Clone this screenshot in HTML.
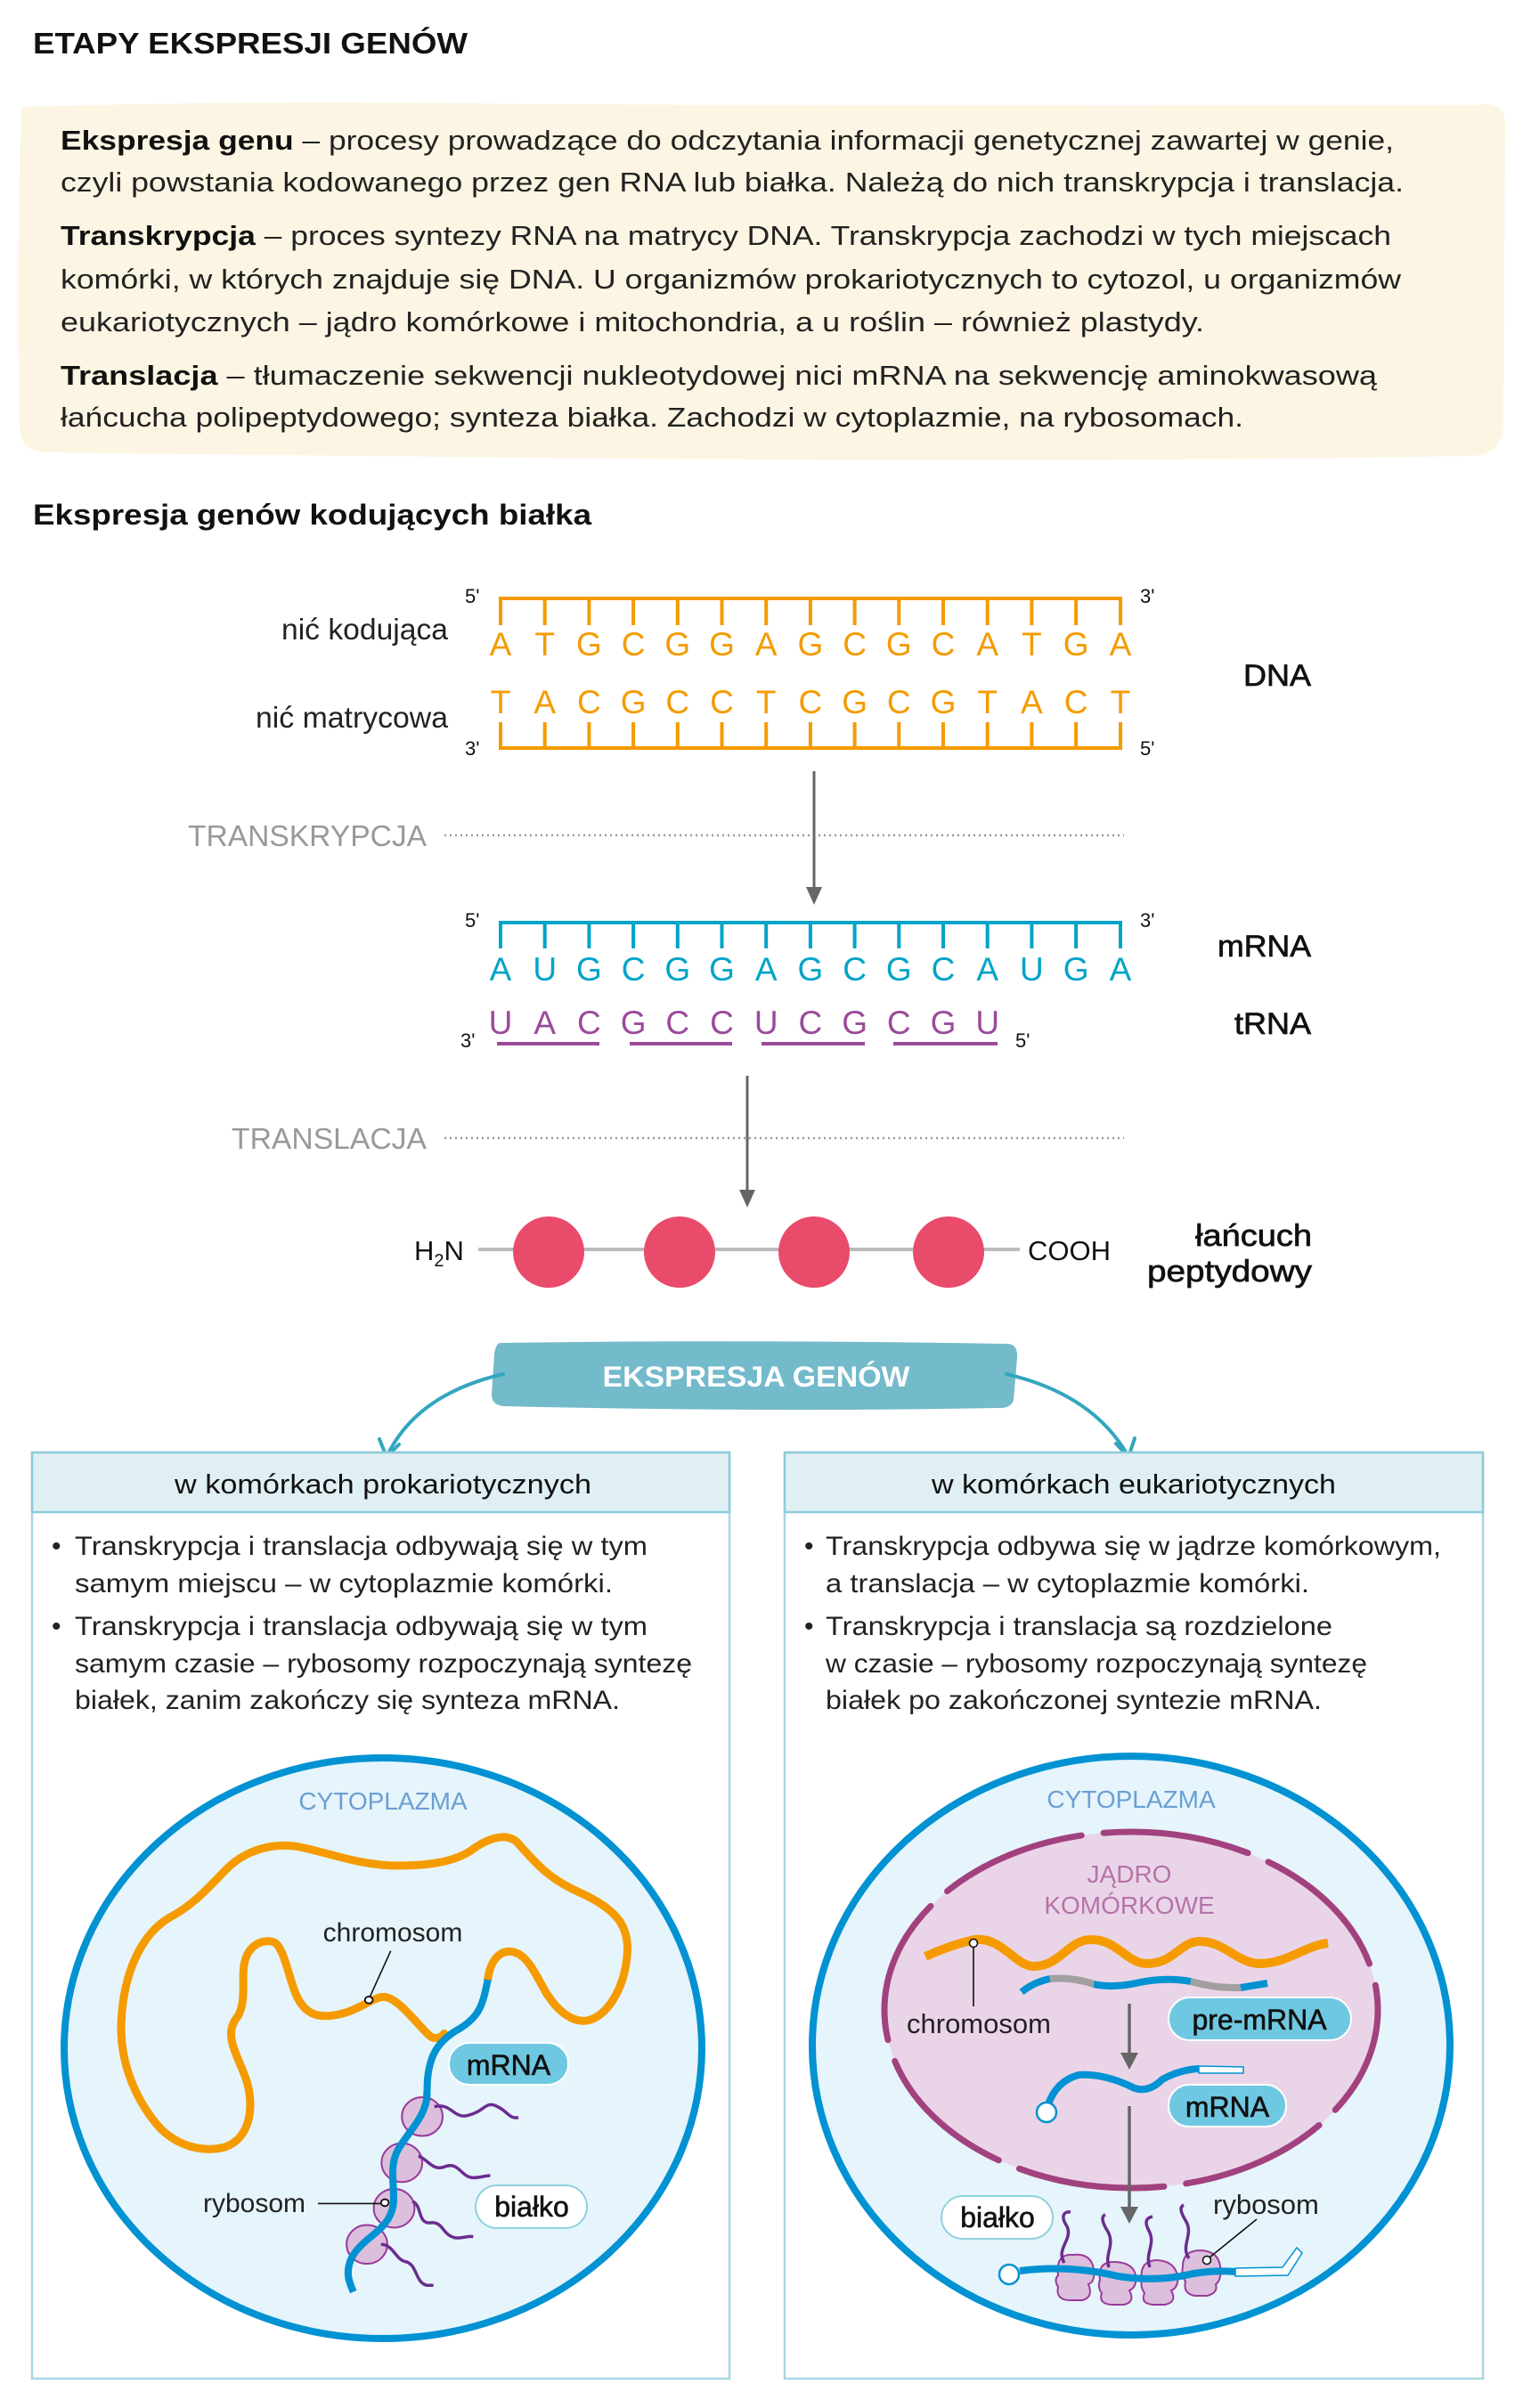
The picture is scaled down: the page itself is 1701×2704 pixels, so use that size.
<!DOCTYPE html>
<html><head><meta charset="utf-8"><style>
html,body{margin:0;padding:0;background:#fff}
svg{display:block}
text{font-family:"Liberation Sans",sans-serif}
</style></head><body>
<svg width="1701" height="2704" viewBox="0 0 1701 2704" xmlns="http://www.w3.org/2000/svg">
<!-- Title -->
<text x="37" y="60" font-size="33" font-weight="bold" fill="#111" textLength="488" lengthAdjust="spacingAndGlyphs">ETAPY EKSPRESJI GENÓW</text>
<!-- Beige box -->
<path d="M24 120 Q300 112 600 117 Q1000 119 1660 118 Q1690 112 1690 140 L1688 470 Q1690 512 1650 512 Q1200 520 600 514 Q200 510 50 508 Q22 505 22 480 Q18 300 24 120 Z" fill="#fdf5e3"/>
<g font-size="31" fill="#222">
<text x="68" y="168" textLength="1497" lengthAdjust="spacingAndGlyphs"><tspan font-weight="bold" fill="#111">Ekspresja genu</tspan> – procesy prowadzące do odczytania informacji genetycznej zawartej w genie,</text>
<text x="68" y="215" textLength="1508" lengthAdjust="spacingAndGlyphs">czyli powstania kodowanego przez gen RNA lub białka. Należą do nich transkrypcja i translacja.</text>
<text x="68" y="275" textLength="1494" lengthAdjust="spacingAndGlyphs"><tspan font-weight="bold" fill="#111">Transkrypcja</tspan> – proces syntezy RNA na matrycy DNA. Transkrypcja zachodzi w tych miejscach</text>
<text x="68" y="324" textLength="1505" lengthAdjust="spacingAndGlyphs">komórki, w których znajduje się DNA. U organizmów prokariotycznych to cytozol, u organizmów</text>
<text x="68" y="372" textLength="1284" lengthAdjust="spacingAndGlyphs">eukariotycznych – jądro komórkowe i mitochondria, a u roślin – również plastydy.</text>
<text x="68" y="432" textLength="1478" lengthAdjust="spacingAndGlyphs"><tspan font-weight="bold" fill="#111">Translacja</tspan> – tłumaczenie sekwencji nukleotydowej nici mRNA na sekwencję aminokwasową</text>
<text x="68" y="479" textLength="1328" lengthAdjust="spacingAndGlyphs">łańcucha polipeptydowego; synteza białka. Zachodzi w cytoplazmie, na rybosomach.</text>
</g>
<text x="37" y="589" font-size="32" font-weight="bold" fill="#111" textLength="627" lengthAdjust="spacingAndGlyphs">Ekspresja genów kodujących białka</text>

<!-- DNA -->
<g stroke="#f59b00" stroke-width="4" fill="none">
<path d="M562 702 V672 H1258 V702"/>
<path d="M611.7 672V702M661.4 672V702M711.1 672V702M760.8 672V702M810.5 672V702M860.2 672V702M909.9 672V702M959.6 672V702M1009.3 672V702M1059 672V702M1108.7 672V702M1158.4 672V702M1208.1 672V702"/>
<path d="M562 811 V840 H1258 V811"/>
<path d="M611.7 811V840M661.4 811V840M711.1 811V840M760.8 811V840M810.5 811V840M860.2 811V840M909.9 811V840M959.6 811V840M1009.3 811V840M1059 811V840M1108.7 811V840M1158.4 811V840M1208.1 811V840"/>
</g>
<g font-size="37" fill="#f59b00" text-anchor="middle">
<text y="736"><tspan x="562">A</tspan><tspan x="611.7">T</tspan><tspan x="661.4">G</tspan><tspan x="711.1">C</tspan><tspan x="760.8">G</tspan><tspan x="810.5">G</tspan><tspan x="860.2">A</tspan><tspan x="909.9">G</tspan><tspan x="959.6">C</tspan><tspan x="1009.3">G</tspan><tspan x="1059">C</tspan><tspan x="1108.7">A</tspan><tspan x="1158.4">T</tspan><tspan x="1208.1">G</tspan><tspan x="1258">A</tspan></text>
<text y="801"><tspan x="562">T</tspan><tspan x="611.7">A</tspan><tspan x="661.4">C</tspan><tspan x="711.1">G</tspan><tspan x="760.8">C</tspan><tspan x="810.5">C</tspan><tspan x="860.2">T</tspan><tspan x="909.9">C</tspan><tspan x="959.6">G</tspan><tspan x="1009.3">C</tspan><tspan x="1059">G</tspan><tspan x="1108.7">T</tspan><tspan x="1158.4">A</tspan><tspan x="1208.1">C</tspan><tspan x="1258">T</tspan></text>
</g>
<g font-size="22" fill="#111">
<text x="522" y="677">5'</text><text x="1280" y="677">3'</text>
<text x="522" y="848">3'</text><text x="1280" y="848">5'</text>
<text x="522" y="1041">5'</text><text x="1280" y="1041">3'</text>
<text x="517" y="1176">3'</text><text x="1140" y="1176">5'</text>
</g>
<g font-size="33" fill="#222" text-anchor="end">
<text x="503" y="718" textLength="187" lengthAdjust="spacingAndGlyphs">nić kodująca</text>
<text x="503" y="817" textLength="216" lengthAdjust="spacingAndGlyphs">nić matrycowa</text>
</g>
<g font-size="34" fill="#111" text-anchor="end" stroke="#111" stroke-width="0.7">
<text x="1472" y="770" textLength="76" lengthAdjust="spacingAndGlyphs">DNA</text>
<text x="1472" y="1074" textLength="105" lengthAdjust="spacingAndGlyphs">mRNA</text>
<text x="1472" y="1161" textLength="86" lengthAdjust="spacingAndGlyphs">tRNA</text>
<text x="1473" y="1399" textLength="131" lengthAdjust="spacingAndGlyphs">łańcuch</text>
<text x="1473" y="1439" textLength="185" lengthAdjust="spacingAndGlyphs">peptydowy</text>
</g>

<!-- arrows & labels -->
<g fill="#999" font-size="33" text-anchor="end">
<text x="479" y="950" textLength="268" lengthAdjust="spacingAndGlyphs">TRANSKRYPCJA</text>
<text x="479" y="1290" textLength="219" lengthAdjust="spacingAndGlyphs">TRANSLACJA</text>
</g>
<g stroke="#999" stroke-width="2.5" stroke-dasharray="2 4">
<line x1="499" y1="938" x2="1262" y2="938"/>
<line x1="499" y1="1278" x2="1262" y2="1278"/>
</g>
<line x1="914" y1="866" x2="914" y2="1000" stroke="#666" stroke-width="3"/>
<path d="M905 996 L923 996 L914 1016 Z" fill="#666"/>
<line x1="839" y1="1208" x2="839" y2="1340" stroke="#666" stroke-width="3"/>
<path d="M830 1336 L848 1336 L839 1356 Z" fill="#666"/>

<!-- mRNA -->
<g stroke="#00a3c8" stroke-width="4" fill="none">
<path d="M562 1065 V1036 H1258 V1065"/>
<path d="M611.7 1036V1065M661.4 1036V1065M711.1 1036V1065M760.8 1036V1065M810.5 1036V1065M860.2 1036V1065M909.9 1036V1065M959.6 1036V1065M1009.3 1036V1065M1059 1036V1065M1108.7 1036V1065M1158.4 1036V1065M1208.1 1036V1065"/>
</g>
<g font-size="37" text-anchor="middle">
<text y="1101" fill="#00a3c8"><tspan x="562">A</tspan><tspan x="611.7">U</tspan><tspan x="661.4">G</tspan><tspan x="711.1">C</tspan><tspan x="760.8">G</tspan><tspan x="810.5">G</tspan><tspan x="860.2">A</tspan><tspan x="909.9">G</tspan><tspan x="959.6">C</tspan><tspan x="1009.3">G</tspan><tspan x="1059">C</tspan><tspan x="1108.7">A</tspan><tspan x="1158.4">U</tspan><tspan x="1208.1">G</tspan><tspan x="1258">A</tspan></text>
<text y="1161" fill="#9b4a9b"><tspan x="562">U</tspan><tspan x="611.7">A</tspan><tspan x="661.4">C</tspan><tspan x="711.1">G</tspan><tspan x="760.8">C</tspan><tspan x="810.5">C</tspan><tspan x="860.2">U</tspan><tspan x="909.9">C</tspan><tspan x="959.6">G</tspan><tspan x="1009.3">C</tspan><tspan x="1059">G</tspan><tspan x="1108.7">U</tspan></text>
</g>
<g stroke="#9b4a9b" stroke-width="4">
<line x1="558" y1="1172" x2="673" y2="1172"/><line x1="707" y1="1172" x2="822" y2="1172"/>
<line x1="855" y1="1172" x2="971" y2="1172"/><line x1="1003" y1="1172" x2="1120" y2="1172"/>
</g>

<!-- peptide -->
<line x1="537" y1="1403" x2="1145" y2="1403" stroke="#bbb" stroke-width="4"/>
<g fill="#e94b6b"><circle cx="616" cy="1406" r="40"/><circle cx="763" cy="1406" r="40"/><circle cx="914" cy="1406" r="40"/><circle cx="1065" cy="1406" r="40"/></g>
<text x="465" y="1415" font-size="31" fill="#111">H<tspan font-size="20" dy="7">2</tspan><tspan dy="-7">N</tspan></text>
<text x="1154" y="1415" font-size="31" fill="#111">COOH</text>

<!-- banner -->
<path d="M562 1508 Q850 1504 1132 1509 Q1143 1510 1142 1525 L1138 1572 Q1135 1582 1120 1581 Q850 1586 566 1579 Q552 1578 552 1566 L555 1520 Q557 1508 562 1508 Z" fill="#73bacb"/>
<text x="849" y="1557" font-size="32" font-weight="bold" fill="#fff" text-anchor="middle" textLength="345" lengthAdjust="spacingAndGlyphs">EKSPRESJA GENÓW</text>
<g stroke="#33a6bf" stroke-width="4" fill="none" stroke-linecap="round">
<path d="M565 1543 Q470 1565 436 1632"/>
<path d="M426 1616 L434 1636 L448 1622"/>
<path d="M1130 1543 Q1225 1565 1265 1632"/>
<path d="M1253 1621 L1267 1636 L1274 1615"/>
</g>

<!-- panels -->
<g stroke="#a9d6e2" stroke-width="2.5">
<rect x="36" y="1631" width="783" height="1040" fill="#fff"/>
<rect x="881" y="1631" width="784" height="1040" fill="#fff"/>
<rect x="36" y="1631" width="783" height="67" fill="#e0eff3" stroke="#8ccbdb"/>
<rect x="881" y="1631" width="784" height="67" fill="#e0eff3" stroke="#8ccbdb"/>
</g>
<g font-size="31" fill="#111" text-anchor="middle">
<text x="430" y="1677" textLength="468" lengthAdjust="spacingAndGlyphs">w komórkach prokariotycznych</text>
<text x="1273" y="1677" textLength="454" lengthAdjust="spacingAndGlyphs">w komórkach eukariotycznych</text>
</g>
<g font-size="30" fill="#222">
<text x="58" y="1746">•</text><text x="58" y="1836">•</text>
<text x="84" y="1746" textLength="643" lengthAdjust="spacingAndGlyphs">Transkrypcja i translacja odbywają się w tym</text>
<text x="84" y="1788" textLength="604" lengthAdjust="spacingAndGlyphs">samym miejscu – w cytoplazmie komórki.</text>
<text x="84" y="1836" textLength="643" lengthAdjust="spacingAndGlyphs">Transkrypcja i translacja odbywają się w tym</text>
<text x="84" y="1878" textLength="693" lengthAdjust="spacingAndGlyphs">samym czasie – rybosomy rozpoczynają syntezę</text>
<text x="84" y="1919" textLength="612" lengthAdjust="spacingAndGlyphs">białek, zanim zakończy się synteza mRNA.</text>
<text x="903" y="1746">•</text><text x="903" y="1836">•</text>
<text x="927" y="1746" textLength="691" lengthAdjust="spacingAndGlyphs">Transkrypcja odbywa się w jądrze komórkowym,</text>
<text x="927" y="1788" textLength="543" lengthAdjust="spacingAndGlyphs">a translacja – w cytoplazmie komórki.</text>
<text x="927" y="1836" textLength="569" lengthAdjust="spacingAndGlyphs">Transkrypcja i translacja są rozdzielone</text>
<text x="927" y="1878" textLength="608" lengthAdjust="spacingAndGlyphs">w czasie – rybosomy rozpoczynają syntezę</text>
<text x="927" y="1919" textLength="557" lengthAdjust="spacingAndGlyphs">białek po zakończonej syntezie mRNA.</text>
</g>

<!-- LEFT CELL -->
<ellipse cx="430" cy="2300" rx="358" ry="326" fill="#e6f4fb" stroke="#0092d2" stroke-width="8"/>
<text x="430" y="2032" font-size="28" fill="#6a9fd4" text-anchor="middle">CYTOPLAZMA</text>
<g transform="translate(0,1950) scale(0.54496,0.48331)" fill="none">
<path vector-effect="non-scaling-stroke" stroke="#f59b00" stroke-width="9" stroke-linecap="round" d="M1005 565 C1010 520 1030 495 1055 500 C1085 505 1100 545 1125 595 C1150 640 1180 665 1210 660 C1250 650 1285 590 1292 510 C1298 440 1270 400 1190 360 C1130 330 1100 290 1065 245 C1040 220 1000 240 970 265 C930 295 870 300 820 300 C740 300 680 270 610 255 C540 245 490 280 465 310 C430 350 400 390 350 420 C290 460 255 550 250 660 C245 770 290 860 330 910 C370 955 420 965 460 955 C520 935 525 850 505 790 C485 730 460 690 490 650 C510 610 495 560 505 520 C515 480 545 470 565 478 C585 490 595 560 610 600 C630 650 660 655 700 645 C740 635 770 605 790 605 C820 605 860 670 885 695 C895 705 910 700 915 690"/>
<path vector-effect="non-scaling-stroke" stroke="#0092d2" stroke-width="8" d="M1005 565 C995 620 990 650 945 680 C905 705 880 740 880 820 C880 880 840 920 820 960 C800 1000 815 1050 810 1090 C800 1150 750 1160 725 1210 C710 1245 720 1270 728 1290"/>
<g fill="#dcbfdc" stroke="#9a3b9a" stroke-width="2">
<ellipse vector-effect="non-scaling-stroke" cx="870" cy="883" rx="42" ry="45"/>
<ellipse vector-effect="non-scaling-stroke" cx="828" cy="990" rx="42" ry="45"/>
<ellipse vector-effect="non-scaling-stroke" cx="812" cy="1096" rx="42" ry="45"/>
<ellipse vector-effect="non-scaling-stroke" cx="756" cy="1180" rx="42" ry="45"/>
</g>
<path vector-effect="non-scaling-stroke" stroke="#0092d2" stroke-width="8" d="M880 830 C880 880 840 920 820 960 C800 1000 815 1050 810 1090 C800 1150 750 1160 725 1210 C710 1245 720 1270 728 1290"/>
<g stroke="#6b2c8f" stroke-width="3.5">
<path vector-effect="non-scaling-stroke" d="M895 860 C930 850 935 890 965 880 C1000 870 1000 845 1025 860 C1045 870 1050 890 1068 885"/>
<path vector-effect="non-scaling-stroke" d="M862 975 C880 980 890 1010 915 1000 C945 985 950 1025 975 1025 C990 1025 1000 1020 1010 1020"/>
<path vector-effect="non-scaling-stroke" d="M850 1080 C870 1090 860 1130 885 1130 C915 1125 910 1160 940 1165 C955 1165 965 1160 975 1162"/>
<path vector-effect="non-scaling-stroke" d="M785 1180 C810 1180 815 1215 835 1220 C860 1225 855 1270 880 1275 L893 1275"/>
</g>
<path vector-effect="non-scaling-stroke" stroke="#111" stroke-width="1.6" d="M805 498 L762 605"/>
<ellipse vector-effect="non-scaling-stroke" cx="760" cy="612" rx="8" ry="8" fill="#fff" stroke="#111" stroke-width="1.8"/>
<path vector-effect="non-scaling-stroke" stroke="#111" stroke-width="1.6" d="M655 1085 L785 1085"/>
<ellipse vector-effect="non-scaling-stroke" cx="793" cy="1083" rx="8" ry="8" fill="#fff" stroke="#111" stroke-width="1.8"/>
</g>
<rect x="504" y="2294" width="134" height="47" rx="23" fill="#6fc8e1" stroke="#fff" stroke-width="2"/>
<text x="571" y="2330" font-size="32" fill="#111" text-anchor="middle" stroke="#111" stroke-width="0.6">mRNA</text>
<rect x="534" y="2454" width="125" height="48" rx="24" fill="#fff" stroke="#8fd0e0" stroke-width="2"/>
<text x="597" y="2489" font-size="32" fill="#111" text-anchor="middle" stroke="#111" stroke-width="0.6">białko</text>
<text x="441" y="2180" font-size="30" fill="#222" text-anchor="middle">chromosom</text>
<text x="343" y="2484" font-size="30" fill="#222" text-anchor="end">rybosom</text>

<!-- RIGHT CELL -->
<ellipse cx="1270" cy="2297" rx="358" ry="325" fill="#e6f4fb" stroke="#0092d2" stroke-width="8"/>
<text x="1270" y="2030" font-size="28" fill="#6a9fd4" text-anchor="middle">CYTOPLAZMA</text>
<ellipse cx="1270" cy="2257" rx="277" ry="200" fill="#ead5e8"/>
<ellipse cx="1270" cy="2257" rx="277" ry="200" fill="none" stroke="#a2417f" stroke-width="7" stroke-linecap="round" stroke-dasharray="165 25" stroke-dashoffset="40"/>
<g font-size="28" fill="#b673a8" text-anchor="middle">
<text x="1268" y="2114">JĄDRO</text>
<text x="1268" y="2149">KOMÓRKOWE</text>
</g>
<path d="M1039 2197 Q1070 2183 1095 2178 C1125 2175 1140 2208 1161 2208 C1190 2208 1200 2178 1225 2178 C1255 2178 1265 2205 1288 2205 C1318 2205 1325 2180 1347 2180 C1375 2180 1390 2205 1414 2205 C1445 2205 1465 2185 1491 2182" fill="none" stroke="#f59b00" stroke-width="10"/>
<path d="M1147 2237 Q1160 2226 1179 2222" fill="none" stroke="#0092d2" stroke-width="8"/>
<path d="M1179 2222 Q1205 2220 1228 2228" fill="none" stroke="#a0a0a0" stroke-width="8"/>
<path d="M1228 2228 Q1250 2233 1280 2226 Q1310 2220 1337 2225" fill="none" stroke="#0092d2" stroke-width="8"/>
<path d="M1337 2225 Q1365 2233 1393 2232" fill="none" stroke="#a0a0a0" stroke-width="8"/>
<path d="M1393 2232 L1423 2227" fill="none" stroke="#0092d2" stroke-width="8"/>
<line x1="1093" y1="2184" x2="1093" y2="2253" stroke="#111" stroke-width="1.6"/>
<circle cx="1093" cy="2182" r="4.5" fill="#fff" stroke="#111" stroke-width="1.6"/>
<text x="1018" y="2283" font-size="31" fill="#222">chromosom</text>
<rect x="1312" y="2243" width="205" height="48" rx="24" fill="#6fc8e1" stroke="#fff" stroke-width="2"/>
<text x="1414" y="2279" font-size="32" fill="#111" text-anchor="middle" stroke="#111" stroke-width="0.6">pre-mRNA</text>
<line x1="1268" y1="2250" x2="1268" y2="2308" stroke="#666" stroke-width="3.5"/>
<path d="M1258 2305 L1278 2305 L1268 2324 Z" fill="#666"/>
<path d="M1177 2363 Q1186 2337 1211 2330 Q1240 2328 1274 2345 Q1290 2350 1305 2335 Q1325 2324 1346 2323" fill="none" stroke="#0092d2" stroke-width="8"/>
<path d="M1346 2320 L1396 2321 L1396 2328 L1346 2328 Z" fill="#fff" stroke="#0092d2" stroke-width="1.5"/>
<circle cx="1175" cy="2372" r="11" fill="#fff" stroke="#0092d2" stroke-width="2.5"/>
<rect x="1312" y="2341" width="132" height="47" rx="23" fill="#6fc8e1" stroke="#fff" stroke-width="2"/>
<text x="1378" y="2377" font-size="32" fill="#111" text-anchor="middle" stroke="#111" stroke-width="0.6">mRNA</text>
<line x1="1268" y1="2365" x2="1268" y2="2480" stroke="#666" stroke-width="3.5"/>
<path d="M1258 2478 L1278 2478 L1268 2497 Z" fill="#666"/>
<!-- ribosomes bottom -->
<g fill="#dcbfdc" stroke="#9a3b9a" stroke-width="2">
<path d="M1188 2555 Q1185 2530 1205 2532 Q1225 2530 1228 2548 Q1230 2562 1222 2565 Q1228 2580 1215 2583 L1200 2583 Q1185 2582 1188 2568 Q1183 2560 1188 2555 Z"/>
<path d="M1235 2560 Q1232 2540 1250 2540 Q1272 2540 1275 2555 Q1277 2568 1268 2572 Q1275 2585 1262 2588 L1248 2588 Q1233 2587 1237 2575 Q1232 2568 1235 2560 Z"/>
<path d="M1282 2560 Q1279 2540 1297 2538 Q1318 2538 1322 2555 Q1324 2568 1315 2572 Q1322 2585 1308 2588 L1295 2588 Q1280 2587 1285 2575 Q1280 2568 1282 2560 Z"/>
<path d="M1328 2545 Q1328 2527 1348 2527 Q1368 2528 1370 2545 Q1372 2560 1365 2565 Q1368 2575 1355 2578 L1342 2578 Q1328 2576 1331 2562 Q1326 2555 1328 2545 Z"/>
</g>
<path d="M1145 2550 Q1200 2543 1255 2556 Q1300 2563 1340 2553 Q1365 2549 1387 2551" fill="none" stroke="#0092d2" stroke-width="8"/>
<path d="M1387 2547 L1440 2546 L1456 2524 L1462 2530 L1446 2555 L1387 2556 Z" fill="#fff" stroke="#0092d2" stroke-width="1.5"/>
<circle cx="1133" cy="2554" r="11" fill="#fff" stroke="#0092d2" stroke-width="2.5"/>
<g fill="none" stroke="#6b2c8f" stroke-width="3.5">
<path d="M1195 2541 C1185 2525 1205 2515 1198 2500 C1190 2488 1195 2483 1202 2484"/>
<path d="M1245 2546 C1240 2530 1252 2522 1244 2506 C1235 2492 1238 2488 1241 2487"/>
<path d="M1291 2546 C1285 2530 1298 2520 1290 2505 C1283 2492 1290 2490 1294 2489"/>
<path d="M1335 2536 C1325 2522 1340 2510 1332 2495 C1324 2482 1325 2478 1329 2476"/>
</g>
<line x1="1411" y1="2492" x2="1358" y2="2535" stroke="#111" stroke-width="1.6"/>
<circle cx="1355" cy="2538" r="4.5" fill="#fff" stroke="#111" stroke-width="1.6"/>
<text x="1362" y="2486" font-size="31" fill="#222">rybosom</text>
<rect x="1057" y="2466" width="125" height="48" rx="24" fill="#fff" stroke="#8fd0e0" stroke-width="2"/>
<text x="1120" y="2501" font-size="32" fill="#111" text-anchor="middle" stroke="#111" stroke-width="0.6">białko</text>
</svg>
</body></html>
